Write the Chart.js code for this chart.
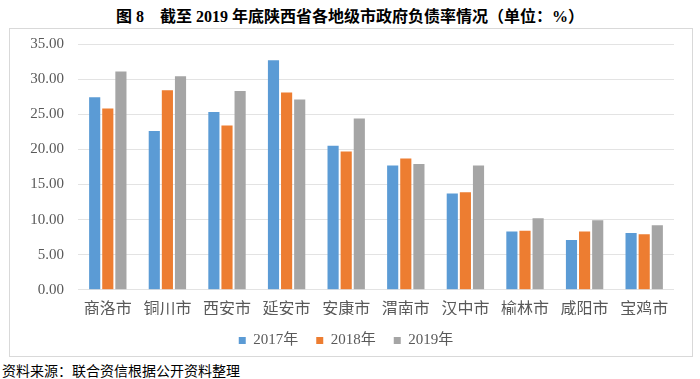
<html>
<head>
    <meta charset="utf-8"/>
    <script src="https://cdn.jsdelivr.net/npm/chart.js@4.4.0/dist/chart.umd.min.js"></script>
    <style>
        body { margin: 0; background: #fff; width: 700px; height: 379px; position: relative; overflow: hidden; }
        .title { position: absolute; left: 0; top: 3px; width: 700px; text-align: center;
                 font: bold 16px 'Liberation Serif', 'Noto Sans CJK SC'; color: #000; }
        .box { position: absolute; left: 9px; top: 28px; width: 682px; height: 327px;
               border: 1px solid #d9d9d9; }
        .box canvas { position: absolute; left: 0; top: -8px; }
        .note { position: absolute; left: 2px; top: 360px; font: 14px 'Liberation Serif', 'Noto Sans CJK SC'; color: #000; }
    </style>
</head>
<body>
    <div class="title">图 8　截至 2019 年底陕西省各地级市政府负债率情况（单位：%）</div>
    <div class="box">
        <canvas id="debtChart" width="682" height="337"></canvas>
    </div>
    <div class="note">资料来源：联合资信根据公开资料整理</div>
    <script>
        const cities = ['商洛市', '铜川市', '西安市', '延安市', '安康市', '渭南市', '汉中市', '榆林市', '咸阳市', '宝鸡市'];
        const values2017 = [27.4, 22.6, 25.3, 32.7, 20.5, 17.7, 13.7, 8.3, 7.1, 8.1];
        const values2018 = [25.8, 28.4, 23.4, 28.1, 19.7, 18.7, 13.9, 8.4, 8.3, 7.9];
        const values2019 = [31.1, 30.4, 28.3, 27.1, 24.4, 17.9, 17.7, 10.2, 9.9, 9.2];
        const yTicks = [0, 5, 10, 15, 20, 25, 30, 35];

        const serif = "'Liberation Serif', 'Noto Sans CJK SC'";

        const data = {
            labels: cities,
            datasets: [
                { label: '2017年', data: values2017, backgroundColor: '#5B9BD5' },
                { label: '2018年', data: values2018, backgroundColor: '#ED7D31' },
                { label: '2019年', data: values2019, backgroundColor: '#A5A5A5' }
            ]
        };

        const config = {
            type: 'bar',
            data: data,
            options: {
                responsive: false,
                animation: false,
                layout: { padding: { left: 8, right: 18, top: 7, bottom: 0 } },
                datasets: { bar: { categoryPercentage: 0.66, barPercentage: 0.85 } },
                plugins: {
                    legend: {
                        position: 'bottom',
                        labels: {
                            boxWidth: 7, boxHeight: 7, padding: 18,
                            color: '#595959',
                            font: { family: serif, size: 15 }
                        }
                    },
                    tooltip: { enabled: false }
                },
                scales: {
                    x: {
                        afterFit: s => { s.height = s.height - 6; },
                        grid: { display: false },
                        border: { display: false },
                        ticks: { color: '#595959', padding: 2, font: { family: serif, size: 16 } }
                    },
                    y: {
                        min: 0, max: 35,
                        afterBuildTicks: s => { s.ticks = yTicks.map(v => ({ value: v })); },
                        afterFit: s => { s.width = 60; },
                        grid: { color: '#e3e3e3', drawTicks: false },
                        border: { display: false },
                        ticks: {
                            color: '#595959', padding: 14,
                            font: { family: serif, size: 15 },
                            callback: v => v.toFixed(2)
                        }
                    }
                }
            }
        };

        const debtChart = new Chart(document.getElementById('debtChart'), config);
    </script>
</body>
</html>
